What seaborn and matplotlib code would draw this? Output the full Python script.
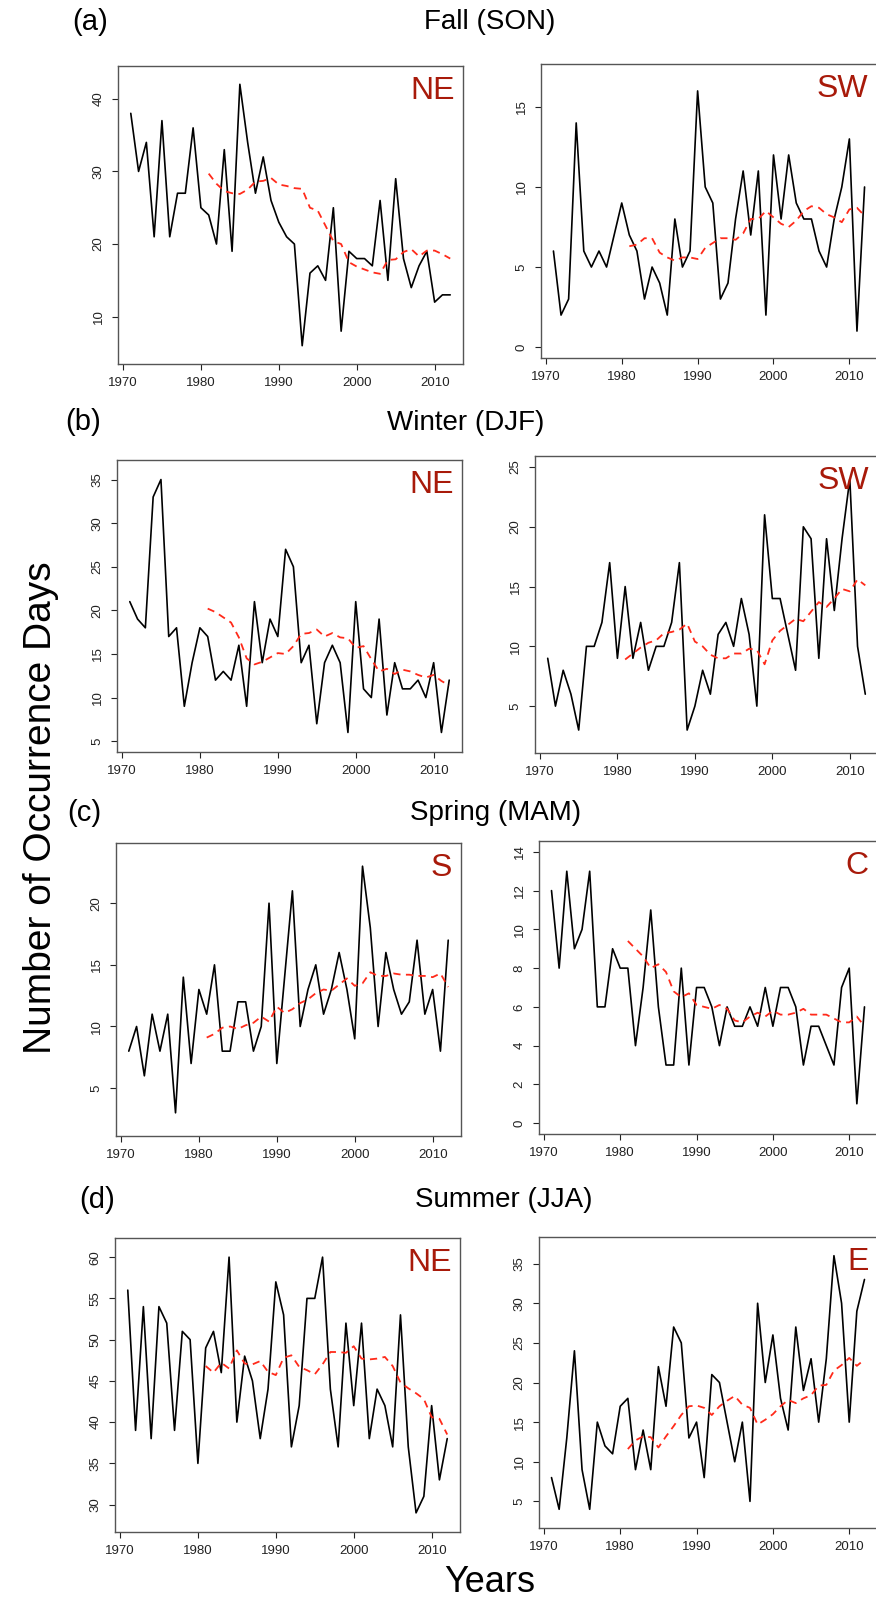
import numpy as np
import matplotlib
matplotlib.use("Agg")
import matplotlib.pyplot as plt
import seaborn as sns

# Years of record and the 10-year running-mean years
years = np.arange(1971, 2013)
ma_years = np.arange(1981, 2013)

# Fall (SON)
fall_ne = [38, 30, 34, 21, 37, 21, 27, 27, 36, 25, 24, 20, 33, 19, 42, 34, 27, 32, 26, 23,
           21, 20, 6, 16, 17, 15, 25, 8, 19, 18, 18, 17, 26, 15, 29, 18, 14, 17, 19, 12, 13, 13]
fall_ne_ma = [29.7, 28.3, 27.3, 27.0, 26.9, 27.5, 28.6, 28.7, 29.1, 28.2, 28.0, 27.7, 27.6, 25.0,
              24.6, 22.5, 20.4, 20.0, 17.5, 16.9, 16.5, 16.1, 15.9, 17.8, 17.9, 18.9, 19.3, 18.3,
              19.1, 19.1, 18.6, 18.0]
fall_sw = [6, 2, 3, 14, 6, 5, 6, 5, 7, 9, 7, 6, 3, 5, 4, 2, 8, 5, 6, 16,
           10, 9, 3, 4, 8, 11, 7, 11, 2, 12, 8, 12, 9, 8, 8, 6, 5, 8, 10, 13, 1, 10]
fall_sw_ma = [6.3, 6.4, 6.8, 6.8, 5.9, 5.6, 5.4, 5.6, 5.6, 5.5, 6.2, 6.5, 6.8, 6.8, 6.7, 7.1,
              8.0, 8.0, 8.5, 8.1, 7.7, 7.5, 7.9, 8.5, 8.8, 8.7, 8.3, 8.1, 7.8, 8.6, 8.7, 8.2]

# Winter (DJF)
winter_ne = [21, 19, 18, 33, 35, 17, 18, 9, 14, 18, 17, 12, 13, 12, 16, 9, 21, 14, 19, 17,
             27, 25, 14, 16, 7, 14, 16, 14, 6, 21, 11, 10, 19, 8, 14, 11, 11, 12, 10, 14, 6, 12]
winter_ne_ma = [20.2, 19.8, 19.2, 18.6, 16.9, 14.5, 13.8, 14.1, 14.6, 15.1, 15.0, 15.9, 17.3,
                17.4, 17.8, 17.0, 17.4, 16.9, 16.8, 15.7, 15.9, 14.4, 13.0, 13.3, 12.7, 13.2,
                13.0, 12.6, 12.3, 12.6, 11.9, 11.4]
winter_sw = [9, 5, 8, 6, 3, 10, 10, 12, 17, 9, 15, 9, 12, 8, 10, 10, 12, 17, 3, 5,
             8, 6, 11, 12, 10, 14, 11, 5, 21, 14, 14, 11, 8, 20, 19, 9, 19, 13, 19, 24, 10, 6]
winter_sw_ma = [8.9, 9.4, 9.9, 10.3, 10.5, 11.1, 11.2, 11.4, 11.9, 10.4, 10.0, 9.3, 9.0, 9.0,
                9.4, 9.4, 9.8, 9.7, 8.5, 10.5, 11.3, 11.8, 12.3, 12.1, 12.9, 13.7, 13.3, 14.0,
                14.8, 14.6, 15.6, 15.1]

# Spring (MAM)
spring_s = [8, 10, 6, 11, 8, 11, 3, 14, 7, 13, 11, 15, 8, 8, 12, 12, 8, 10, 20, 7,
            14, 21, 10, 13, 15, 11, 13, 16, 13, 9, 23, 18, 10, 16, 13, 11, 12, 17, 11, 13, 8, 17]
spring_s_ma = [9.1, 9.4, 9.9, 10.0, 9.8, 10.1, 10.3, 10.8, 10.4, 11.6, 11.1, 11.4, 11.9, 12.2,
               12.7, 13.0, 12.9, 13.4, 13.9, 13.3, 13.5, 14.4, 14.1, 14.1, 14.3, 14.2, 14.2,
               14.1, 14.1, 14.0, 14.3, 13.2]
spring_c = [12, 8, 13, 9, 10, 13, 6, 6, 9, 8, 8, 4, 7, 11, 6, 3, 3, 8, 3, 7,
            7, 6, 4, 6, 5, 5, 6, 5, 7, 5, 7, 7, 6, 3, 5, 5, 4, 3, 7, 8, 1, 6]
spring_c_ma = [9.4, 9.0, 8.6, 8.0, 8.2, 7.8, 6.8, 6.5, 6.7, 6.1, 6.0, 5.9, 6.1, 5.9, 5.3, 5.2,
               5.5, 5.7, 5.5, 5.8, 5.6, 5.6, 5.7, 5.9, 5.6, 5.6, 5.6, 5.4, 5.2, 5.2, 5.5, 5.0]

# Summer (JJA)
summer_ne = [56, 39, 54, 38, 54, 52, 39, 51, 50, 35, 49, 51, 46, 60, 40, 48, 45, 38, 44, 57,
             53, 37, 42, 55, 55, 60, 44, 37, 52, 42, 52, 38, 44, 42, 37, 53, 37, 29, 31, 42, 33, 38]
summer_ne_ma = [46.8, 46.0, 47.2, 46.5, 48.7, 47.1, 47.0, 47.4, 46.1, 45.7, 47.8, 48.1, 46.7,
                46.3, 45.8, 47.0, 48.5, 48.5, 48.4, 49.2, 47.7, 47.6, 47.7, 47.9, 46.8, 44.8,
                44.1, 43.5, 42.8, 40.6, 40.4, 38.5]
summer_e = [8, 4, 13, 24, 9, 4, 15, 12, 11, 17, 18, 9, 14, 9, 22, 17, 27, 25, 13, 15,
            8, 21, 20, 15, 10, 15, 5, 30, 20, 26, 18, 14, 27, 19, 23, 15, 23, 36, 30, 15, 29, 33]
summer_e_ma = [11.6, 12.7, 13.2, 13.1, 11.8, 13.2, 14.5, 15.9, 17.0, 17.1, 16.8, 15.9, 17.0,
               17.7, 18.3, 17.2, 16.8, 14.7, 15.3, 16.0, 17.0, 17.8, 17.4, 18.0, 18.4, 19.6,
               19.7, 21.5, 22.2, 23.1, 22.1, 22.9]

x_ticks = [1970, 1980, 1990, 2000, 2010]

# (series, running mean, region label, y limits, y ticks, box in pixels: left, right, top, bottom)
panels = [
    (fall_ne, fall_ne_ma, "NE", (3.48, 44.52), [10, 20, 30, 40], (118, 463, 66, 364)),
    (fall_sw, fall_sw_ma, "SW", (-0.68, 17.68), [0, 5, 10, 15], (541, 877, 64, 358)),
    (winter_ne, winter_ne_ma, "NE", (3.76, 37.24), [5, 10, 15, 20, 25, 30, 35], (117, 462, 460, 752)),
    (winter_sw, winter_sw_ma, "SW", (1.08, 25.92), [5, 10, 15, 20, 25], (535, 878, 456, 753)),
    (spring_s, spring_s_ma, "S", (1.12, 24.88), [5, 10, 15, 20], (116, 461, 843, 1136)),
    (spring_c, spring_c_ma, "C", (-0.56, 14.56), [0, 2, 4, 6, 8, 10, 12, 14], (539, 877, 841, 1134)),
    (summer_ne, summer_ne_ma, "NE", (26.68, 62.32), [30, 35, 40, 45, 50, 55, 60], (115, 460, 1238, 1532)),
    (summer_e, summer_e_ma, "E", (1.64, 38.36), [5, 10, 15, 20, 25, 30, 35], (539, 877, 1237, 1528)),
]

headers = [("(a)", 90, 22, "Fall (SON)", 490, 22),
           ("(b)", 83, 422, "Winter (DJF)", 466, 423),
           ("(c)", 84, 813, "Spring (MAM)", 496, 813),
           ("(d)", 97, 1200, "Summer (JJA)", 504, 1200)]

sns.set_theme(style="white")
plt.rcParams["font.family"] = ["Liberation Sans", "DejaVu Sans"]
plt.rcParams["text.color"] = "black"
plt.rcParams["xtick.color"] = "#222222"
plt.rcParams["ytick.color"] = "#222222"

W, H = 876, 1602
fig = plt.figure(figsize=(W / 100, H / 100), dpi=100)

for series, ma, region, ylim, yticks, box in panels:
    left, right, top, bottom = box
    ax = fig.add_axes([left / W, 1 - bottom / H, (right - left) / W, (bottom - top) / H])
    sns.lineplot(x=years, y=series, ax=ax, color="black", linewidth=1.2)
    sns.lineplot(x=ma_years, y=ma, ax=ax, color="#FF2A1A", linewidth=1.3, linestyle=(0, (4, 3)))
    ax.set_xlim(1969.36, 2013.64)
    ax.set_ylim(*ylim)
    ax.set_xticks(x_ticks)
    ax.set_yticks(yticks)
    ax.tick_params(axis="both", direction="out", length=4.5, width=0.8,
                   labelsize=9.5, pad=5, bottom=True, left=True)
    for lab in ax.get_yticklabels():
        lab.set_rotation(90)
        lab.set_va("center")
    for sp in ax.spines.values():
        sp.set_color("#555555")
        sp.set_linewidth(1.0)
    ax.set_xlabel("")
    ax.set_ylabel("")
    ax.text(0.975, 0.965, region, transform=ax.transAxes, ha="right", va="top",
            fontsize=23, color="#A81A0A")

for tag, tx, ty, title, sx, sy in headers:
    fig.text(tx / W, 1 - ty / H, tag, fontsize=21, ha="center", va="center")
    fig.text(sx / W, 1 - sy / H, title, fontsize=20, ha="center", va="center")

fig.text(41 / W, 1 - 808 / H, "Number of Occurrence Days", fontsize=28, rotation=90,
         ha="center", va="center")
fig.text(490 / W, 1 - 1583 / H, "Years", fontsize=26, ha="center", va="center")

plt.savefig("out.png", dpi=100)
